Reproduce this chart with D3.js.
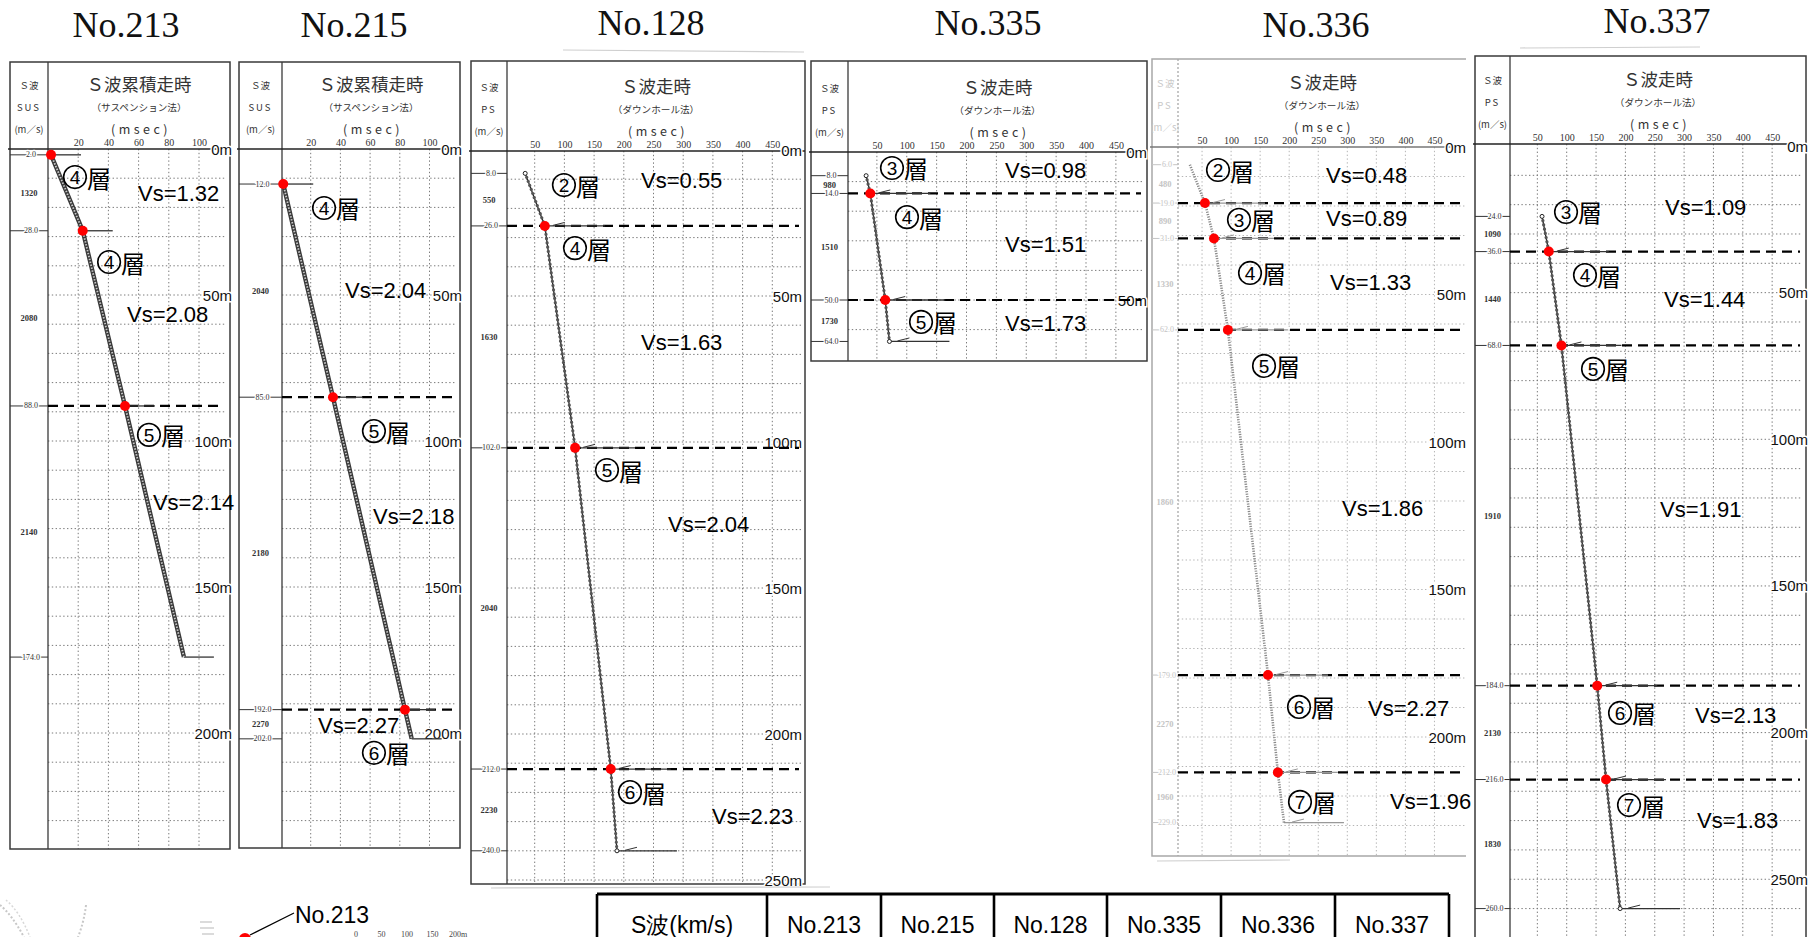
<!DOCTYPE html>
<html><head><meta charset="utf-8">
<script src="https://cdn.jsdelivr.net/npm/d3@7"></script>
<style>
html,body{margin:0;padding:0;background:#fff;overflow:hidden}
svg{display:block}
</style></head><body>
<svg id="c" width="1809" height="937"></svg>
<script>
// ================= DATA =================
const wells = ["No.213", "No.215", "No.128", "No.335", "No.336", "No.337"];
const methods = ["（サスペンション法）", "（サスペンション法）", "（ダウンホール法）", "（ダウンホール法）", "（ダウンホール法）", "（ダウンホール法）"];
const chartTitles = ["Ｓ波累積走時", "Ｓ波累積走時", "Ｓ波走時", "Ｓ波走時", "Ｓ波走時", "Ｓ波走時"];
const colHeads = [["Ｓ波", "SUS", "(m／s)"], ["Ｓ波", "SUS", "(m／s)"], ["Ｓ波", "PS", "(m／s)"], ["Ｓ波", "PS", "(m／s)"], ["Ｓ波", "PS", "(m／s)"], ["Ｓ波", "PS", "(m／s)"]];

// travel-time curves: depth (m) / S-wave travel time (msec)
const depth213 = [2, 28, 88, 174];
const time213  = [2, 23, 51, 90];
const depth215 = [12, 85, 192, 202];
const time215  = [1.5, 35, 83.5, 88];
const depth128 = [8, 26, 102, 212, 240];
const time128  = [34, 67, 118, 178, 188.5];
const depth335 = [8, 14, 50, 64];
const time335  = [32, 39, 64, 71];
const depth336 = [6, 19, 31, 62, 179, 212, 229];
const time336  = [29, 55, 70.5, 94.5, 163.5, 180.5, 191];
const depth337 = [24, 36, 68, 184, 216, 260];
const time337  = [58, 69.5, 91, 152, 167, 191];

// layer boundaries marked with red points / dashed lines (m)
const bound213 = [2, 28, 88];          const dashed213 = [88];
const bound215 = [12, 85, 192];        const dashed215 = [85, 192];
const bound128 = [26, 102, 212];       const dashed128 = [26, 102, 212];
const bound335 = [14, 50];             const dashed335 = [14, 50];
const bound336 = [19, 31, 62, 179, 212]; const dashed336 = [19, 31, 62, 179, 212];
const bound337 = [36, 68, 184, 216];   const dashed337 = [36, 68, 184, 216];

// interval S-wave velocity in left column (m/s)
const ps213 = [1320, 2080, 2140];
const ps215 = [2040, 2180, 2270];
const ps128 = [550, 1630, 2040, 2230];
const ps335 = [980, 1510, 1730];
const ps336 = [480, 890, 1330, 1860, 2270, 1960];
const ps337 = [1090, 1440, 1910, 2130, 1830];

// layer names and Vs (km/s)
const layer213 = ["④層", "④層", "⑤層"];                 const vs213 = [1.32, 2.08, 2.14];
const layer215 = ["④層", "⑤層", "⑥層"];                 const vs215 = [2.04, 2.18, 2.27];
const layer128 = ["②層", "④層", "⑤層", "⑥層"];          const vs128 = [0.55, 1.63, 2.04, 2.23];
const layer335 = ["③層", "④層", "⑤層"];                 const vs335 = [0.98, 1.51, 1.73];
const layer336 = ["②層", "③層", "④層", "⑤層", "⑥層", "⑦層"]; const vs336 = [0.48, 0.89, 1.33, 1.86, 2.27, 1.96];
const layer337 = ["③層", "④層", "⑤層", "⑥層", "⑦層"];  const vs337 = [1.09, 1.44, 1.91, 2.13, 1.83];

// axis tick values
const ticksSus = [20, 40, 60, 80, 100];
const ticksDh  = [50, 100, 150, 200, 250, 300, 350, 400, 450];
const depthLab213 = [0, 50, 100, 150, 200];
const depthLab215 = [0, 50, 100, 150, 200];
const depthLab128 = [0, 50, 100, 150, 200, 250];
const depthLab335 = [0, 50];
const depthLab336 = [0, 50, 100, 150, 200];
const depthLab337 = [0, 50, 100, 150, 200, 250];

// table header
const tableHead = ["S波(km/s)", "No.213", "No.215", "No.128", "No.335", "No.336", "No.337"];
// map scale labels
const mapScale = ["0", "50", "100", "150", "200m"];

// ================= LAYOUT (positions / styles) =================
// label anchors are given in chart units: [time msec, depth m]
const lp213 = [[9.9, 9.6], [32.5, 38.7], [58.9, 97.9]];
const vp213 = [[59.6, 15.4], [52.3, 56.8], [69.5, 120.9]];
const lp215 = [[20.9, 20.2], [54.5, 96.6], [54.5, 206.8]];
const vp215 = [[43.1, 48.6], [62, 126], [24.9, 197.3]];
const lp128 = [[79, 12], [97.6, 33.6], [151.5, 109.6], [190.2, 219.9]];
const vp128 = [[229, 10.3], [229, 65.8], [274.4, 128.4], [348.5, 228.4]];
const lp335 = [[55.2, 5.4], [80.3, 22], [103.8, 57.4]];
const vp335 = [[264.4, 6.1], [264.4, 31.4], [264.4, 57.8]];
const lp336 = [[56.8, 7.8], [92.9, 24.7], [111.9, 42.7], [136, 74.2], [196.2, 189.8], [197.9, 222]];
const vp336 = [[263.3, 9.5], [263.3, 24.4], [270.2, 46.1], [290.9, 122.7], [335.6, 190.2], [373.5, 221.7]];
const lp337 = [[78.4, 22.5], [110.7, 44], [124.4, 76], [170.4, 193.3], [185.7, 224.7]];
const vp337 = [[267.5, 20.8], [265.8, 52.2], [259, 123.8], [318.6, 194.3], [322, 229.8]];

const boxes = [
  {l:10,  t:62, r:230,  b:849, div:48,   head:149, x0:48,   xk:1.51,   y0:149, yk:2.92,  tx:126,  ty:37, mark:30, labR:2},
  {l:239, t:62, r:460,  b:848, div:282,  head:149, x0:281,  xk:1.485,  y0:149, yk:2.92,  tx:354,  ty:37, mark:30, labR:2},
  {l:471, t:61, r:805,  b:884, div:507,  head:151, x0:505,  xk:0.594,  y0:150, yk:2.92,  tx:651,  ty:35, mark:60, labR:-3},
  {l:811, t:61, r:1147, b:361, div:848,  head:152, x0:847,  xk:0.5975, y0:152, yk:2.96,  tx:988,  ty:35, mark:60, labR:0},
  {l:1152,t:59, r:1475, b:856, div:1178, head:147, x0:1173, xk:0.581,  y0:147, yk:2.95,  tx:1316, ty:37, mark:60, labR:-9, faint:true},
  {l:1475,t:56, r:1806, b:980, div:1510, head:144, x0:1508, xk:0.587,  y0:146, yk:2.933, tx:1657, ty:33, mark:60, labR:2}
];

const FS = "'Liberation Serif','Times New Roman',serif";
const FA = "'Liberation Sans',Arial,sans-serif";
const FJ = "'Noto Sans CJK JP','Noto Sans',sans-serif";

const panels = [
  {depth:depth213,time:time213,bound:bound213,dashed:dashed213,ps:ps213,layers:layer213,vs:vs213,lp:lp213,vp:vp213,ticks:ticksSus,dlab:depthLab213,kind:"sus"},
  {depth:depth215,time:time215,bound:bound215,dashed:dashed215,ps:ps215,layers:layer215,vs:vs215,lp:lp215,vp:vp215,ticks:ticksSus,dlab:depthLab215,kind:"sus"},
  {depth:depth128,time:time128,bound:bound128,dashed:dashed128,ps:ps128,layers:layer128,vs:vs128,lp:lp128,vp:vp128,ticks:ticksDh,dlab:depthLab128,kind:"dh"},
  {depth:depth335,time:time335,bound:bound335,dashed:dashed335,ps:ps335,layers:layer335,vs:vs335,lp:lp335,vp:vp335,ticks:ticksDh,dlab:depthLab335,kind:"dh"},
  {depth:depth336,time:time336,bound:bound336,dashed:dashed336,ps:ps336,layers:layer336,vs:vs336,lp:lp336,vp:vp336,ticks:ticksDh,dlab:depthLab336,kind:"dh"},
  {depth:depth337,time:time337,bound:bound337,dashed:dashed337,ps:ps337,layers:layer337,vs:vs337,lp:lp337,vp:vp337,ticks:ticksDh,dlab:depthLab337,kind:"dh"}
];

// ================= DRAW =================
const svg = d3.select("#c");
svg.append("rect").attr("width",1809).attr("height",937).attr("fill","#fff");

panels.forEach((p, i) => {
  const B = boxes[i];
  const g = svg.append("g");
  const x = d3.scaleLinear().domain([0, 100]).range([B.x0, B.x0 + 100 * B.xk]);
  const y = d3.scaleLinear().domain([0, 100]).range([B.y0, B.y0 + 100 * B.yk]);
  const frameC = B.faint ? "#a8a8a8" : "#3a3a3a";
  const gridC = B.faint ? "#b5b5b5" : "#7a7a7a";
  const lightC = B.faint ? "#c4c4c4" : "#333";
  const gridR = B.faint ? B.r - 9 : B.r - 4;

  // title above the box
  svg.append("text").attr("x", B.tx).attr("y", B.ty).attr("text-anchor", "middle")
    .attr("font-family", FS).attr("font-size", 36).attr("fill", "#111").text(wells[i]);

  // grid: vertical (time ticks)
  g.selectAll(".vg").data(p.ticks).join("line")
    .attr("x1", d => x(d)).attr("x2", d => x(d)).attr("y1", B.head).attr("y2", B.b)
    .attr("stroke", gridC).attr("stroke-width", 1).attr("stroke-dasharray", "1.4 2.4");
  // grid: horizontal every 10 m
  const maxD = Math.floor(y.invert(B.b - 3));
  g.selectAll(".hg").data(d3.range(10, maxD + 1, 10)).join("line")
    .attr("x1", B.div).attr("x2", gridR).attr("y1", d => y(d)).attr("y2", d => y(d))
    .attr("stroke", gridC).attr("stroke-width", 1).attr("stroke-dasharray", "1.4 2.4");

  // frame
  if (B.faint) {
    g.append("path").attr("d", `M${B.r - 9},${B.t}H${B.l}V${B.b}H${B.r - 9}`)
      .attr("fill", "none").attr("stroke", frameC).attr("stroke-width", 1.5);
  } else {
    g.append("rect").attr("x", B.l).attr("y", B.t).attr("width", B.r - B.l).attr("height", B.b - B.t)
      .attr("fill", "none").attr("stroke", frameC).attr("stroke-width", 1.5);
  }
  g.append("line").attr("x1", B.div).attr("x2", B.div).attr("y1", B.t).attr("y2", B.b)
    .attr("stroke", frameC).attr("stroke-width", 1.3).attr("stroke-dasharray", B.faint ? "2 2" : null);
  g.append("line").attr("x1", B.l - 2).attr("x2", B.faint ? B.r - 9 : B.r).attr("y1", B.head).attr("y2", B.head)
    .attr("stroke", B.faint ? "#777" : "#222").attr("stroke-width", 1.4);

  // header texts
  const cx = (B.div + (B.faint ? B.r - 9 : B.r)) / 2;
  g.append("text").attr("x", cx).attr("y", B.head - 66).attr("text-anchor", "middle").attr("dominant-baseline", "central")
    .attr("font-family", FJ).attr("font-size", 17.5).attr("fill", "#333").text(chartTitles[i]);
  g.append("text").attr("x", cx).attr("y", B.head - 42).attr("text-anchor", "middle").attr("dominant-baseline", "central")
    .attr("font-family", FJ).attr("font-size", 9.6).attr("fill", "#333").text(methods[i]);
  g.append("text").attr("x", cx + 2).attr("y", B.head - 21).attr("text-anchor", "middle").attr("dominant-baseline", "central")
    .attr("font-family", FJ).attr("font-size", 12.5).attr("letter-spacing", 3.5).attr("fill", "#333").text("(msec)");
  const lcx = (B.l + B.div) / 2;
  colHeads[i].forEach((t, k) => {
    g.append("text").attr("x", lcx).attr("y", B.head - 64 + k * 22).attr("text-anchor", "middle").attr("dominant-baseline", "central")
      .attr("font-family", FJ).attr("font-size", 9.5).attr("letter-spacing", k === 1 ? 2 : 0)
      .attr("fill", B.faint ? "#c8c8c8" : "#333").text(t);
  });

  // time axis (top)
  const ax = d3.axisTop(x).tickValues(p.ticks).tickSize(0).tickPadding(0);
  const axg = g.append("g").attr("transform", `translate(0,${B.head - 3})`).call(ax);
  axg.select(".domain").remove();
  axg.selectAll("text").attr("font-family", FS).attr("font-size", 10).attr("fill", "#333");

  // depth labels on right
  g.selectAll(".dl").data(p.dlab).join("text")
    .attr("x", B.r + B.labR).attr("y", d => y(d)).attr("text-anchor", "end").attr("dominant-baseline", "central")
    .attr("font-family", FA).attr("font-size", 15).attr("fill", "#111")
    .attr("stroke", "#fff").attr("stroke-width", 3).attr("paint-order", "stroke")
    .text(d => d + "m");

  const pts = d3.zip(p.depth, p.time).map(([d, t]) => ({d, t}));

  // left column depth ticks
  const lt = g.selectAll(".lt").data(pts).join("g");
  lt.append("line").attr("x1", B.l).attr("x2", B.div).attr("y1", d => y(d.d)).attr("y2", d => y(d.d))
    .attr("stroke", lightC).attr("stroke-width", 1);
  lt.append("text").attr("x", lcx + 2).attr("y", d => y(d.d)).attr("text-anchor", "middle").attr("dominant-baseline", "central")
    .attr("font-family", FS).attr("font-size", 8).attr("fill", lightC)
    .attr("stroke", "#fff").attr("stroke-width", 2.5).attr("paint-order", "stroke")
    .text(d => d.d.toFixed(1));
  // interval velocities (between consecutive depths)
  const mids = p.ps.map((v, k) => ({v, d: (p.depth[k] + p.depth[k + 1]) / 2}));
  g.selectAll(".ps").data(mids).join("text")
    .attr("x", lcx).attr("y", d => y(d.d)).attr("text-anchor", "middle").attr("dominant-baseline", "central")
    .attr("font-family", FS).attr("font-size", 8.5).attr("font-weight", "bold").attr("fill", B.faint ? "#c4c4c4" : "#333")
    .text(d => d.v);

  // dashed boundary lines
  g.selectAll(".db").data(p.dashed).join("line")
    .attr("x1", B.div).attr("x2", B.faint ? B.r - 10 : B.r - 6).attr("y1", d => y(d)).attr("y2", d => y(d))
    .attr("stroke", "#000").attr("stroke-width", 2.2).attr("stroke-dasharray", "10 6");

  // marker lines at each measured point
  const mk = p.kind === "sus" ? pts : pts.slice(1);
  g.selectAll(".mk").data(mk).join("line")
    .attr("x1", d => x(d.t)).attr("x2", d => x(d.t) + B.mark).attr("y1", d => y(d.d)).attr("y2", d => y(d.d))
    .attr("stroke", B.faint ? "#999" : "#333").attr("stroke-width", 1.3);
  if (p.kind === "dh") {
    g.selectAll(".mt").data(mk).join("line")
      .attr("x1", d => x(d.t) + 8).attr("x2", d => x(d.t) + 20).attr("y1", d => y(d.d) - 0.5).attr("y2", d => y(d.d) - 3.5)
      .attr("stroke", B.faint ? "#999" : "#333").attr("stroke-width", 1);
  }

  // travel-time curve
  const line = d3.line().x(d => x(d.t)).y(d => y(d.d));
  if (p.kind === "sus") {
    g.append("path").attr("d", line(pts)).attr("fill", "none").attr("stroke", "#3a3a3a").attr("stroke-width", 4.4);
    g.append("path").attr("d", line(pts)).attr("fill", "none").attr("stroke", "#c8c8c8").attr("stroke-width", 1.8)
      .attr("stroke-dasharray", "1.5 1.5");
  } else if (B.faint) {
    g.append("path").attr("d", line(pts)).attr("fill", "none").attr("stroke", "#8a8a8a").attr("stroke-width", 2.6)
      .attr("stroke-dasharray", "1.2 1.3");
  } else {
    g.append("path").attr("d", line(pts)).attr("fill", "none").attr("stroke", "#222").attr("stroke-width", 1.3);
    g.append("path").attr("d", line(pts)).attr("fill", "none").attr("stroke", "#555").attr("stroke-width", 3.2)
      .attr("stroke-linecap", "round").attr("stroke-dasharray", "0.01 4.3");
    g.selectAll(".ends").data([pts[0], pts[pts.length - 1]]).join("circle")
      .attr("cx", d => x(d.t)).attr("cy", d => y(d.d)).attr("r", 2)
      .attr("fill", "#fff").attr("stroke", "#222").attr("stroke-width", 1);
  }

  // red boundary points
  const bp = pts.filter(d => p.bound.includes(d.d));
  g.selectAll(".rd").data(bp).join("circle")
    .attr("cx", d => x(d.t)).attr("cy", d => y(d.d)).attr("r", 5).attr("fill", "#ff0000");

  // layer annotations: circled number + 層
  const ly = g.selectAll(".ly").data(p.layers.map((t, k) => ({
      n: t.codePointAt(0) - 0x245F, rest: t.slice(1), pos: p.lp[k]}))).join("g")
    .attr("transform", d => `translate(${x(d.pos[0])},${y(d.pos[1])})`);
  ly.append("circle").attr("cx", 12).attr("cy", 0).attr("r", 11.3)
    .attr("fill", "none").attr("stroke", "#000").attr("stroke-width", 1.6);
  ly.append("text").attr("x", 12).attr("y", 0.5).attr("text-anchor", "middle").attr("dominant-baseline", "central")
    .attr("font-family", FA).attr("font-size", 19).attr("fill", "#000").text(d => d.n);
  ly.append("text").attr("x", 24).attr("y", 0).attr("dominant-baseline", "central")
    .attr("font-family", FJ).attr("font-size", 24).attr("fill", "#000").text(d => d.rest);

  g.selectAll(".vs").data(p.vs.map((v, k) => ({v, pos: p.vp[k]}))).join("text")
    .attr("x", d => x(d.pos[0])).attr("y", d => y(d.pos[1])).attr("dominant-baseline", "central")
    .attr("font-family", FA).attr("font-size", 22).attr("fill", "#000").text(d => "Vs=" + d.v.toFixed(2));
});

// faint scan artefacts
const art = [[563, 50, 804, 52], [491, 888, 830, 887], [1157, 861, 1290, 860], [1520, 48, 1700, 47]];
svg.selectAll(".art").data(art).join("line")
  .attr("x1", d => d[0]).attr("y1", d => d[1]).attr("x2", d => d[2]).attr("y2", d => d[3])
  .attr("stroke", "#cfcfcf").attr("stroke-width", 1.2);

// ===== table =====
const colW = [170, 114, 113, 113, 114, 114, 114];
const tx0 = 597, ty0 = 894;
const cols = [];
let acc = tx0;
tableHead.forEach((h, k) => { cols.push({h, x: acc, w: colW[k]}); acc += colW[k]; });
const tg = svg.append("g");
tg.append("line").attr("x1", tx0).attr("x2", acc).attr("y1", ty0).attr("y2", ty0).attr("stroke", "#000").attr("stroke-width", 3);
tg.selectAll(".tv").data(cols.map(c => c.x).concat([acc])).join("line")
  .attr("x1", d => d).attr("x2", d => d).attr("y1", ty0).attr("y2", 960)
  .attr("stroke", "#000").attr("stroke-width", 2.6);
tg.selectAll(".th").data(cols).join("text")
  .attr("x", d => d.x + d.w / 2).attr("y", 925).attr("text-anchor", "middle").attr("dominant-baseline", "central")
  .attr("font-family", FA).attr("font-size", 23).attr("fill", "#000").text(d => d.h);

// ===== map fragment =====
const mg = svg.append("g");
mg.append("path").attr("d", "M0,905 Q12,915 24,937").attr("fill", "none").attr("stroke", "#c8c8c8").attr("stroke-width", 2).attr("stroke-dasharray", "2 2");
mg.append("path").attr("d", "M6,900 Q20,912 30,937").attr("fill", "none").attr("stroke", "#d8d8d8").attr("stroke-width", 1.5).attr("stroke-dasharray", "2 2");
mg.append("path").attr("d", "M86,905 Q84,922 78,937").attr("fill", "none").attr("stroke", "#c8c8c8").attr("stroke-width", 2).attr("stroke-dasharray", "2 2");
mg.append("path").attr("d", "M200,922 L212,922 M200,928 L214,928 M202,934 L214,934").attr("stroke", "#d0d0d0").attr("stroke-width", 1.5);
mg.append("line").attr("x1", 250).attr("y1", 935).attr("x2", 294).attr("y2", 913).attr("stroke", "#000").attr("stroke-width", 1.2);
mg.append("circle").attr("cx", 245).attr("cy", 939).attr("r", 6).attr("fill", "#ff0000");
mg.append("text").attr("x", 295).attr("y", 915).attr("dominant-baseline", "central")
  .attr("font-family", FA).attr("font-size", 23).attr("fill", "#000").text(wells[0]);
const sx = d3.scaleLinear().domain([0, 4]).range([356, 458]);
mg.selectAll(".ms").data(mapScale).join("text")
  .attr("x", (d, k) => sx(k)).attr("y", 934).attr("text-anchor", "middle").attr("dominant-baseline", "central")
  .attr("font-family", FS).attr("font-size", 8).attr("fill", "#444").text(d => d);
</script>
</body></html>
